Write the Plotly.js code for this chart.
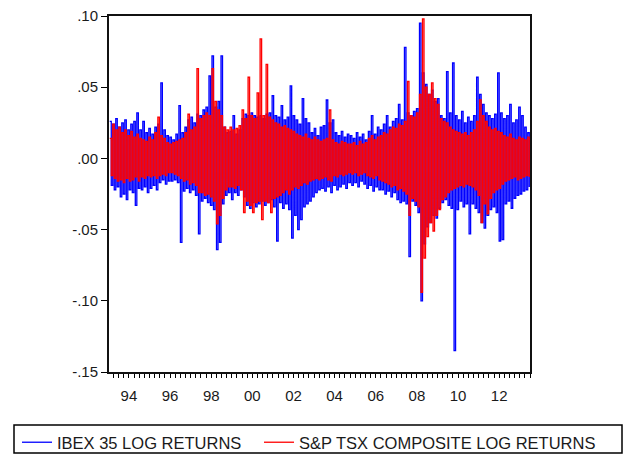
<!DOCTYPE html>
<html>
<head>
<meta charset="utf-8">
<script src="https://cdn.plot.ly/plotly-3.0.1.min.js"></script>
<style>html,body{margin:0;padding:0;background:#fff;}#chart{width:632px;height:456px;}</style>
</head>
<body>
<div id="chart"></div>
<script>
// Time span of the daily series (decimal years)
var startYear = 1993.53;
var endYear = 2014.0;

// IBEX 35 daily log returns (envelope, alternating highs/lows in time order)
var ibex = [
.026,-.019,.024,-.022,.028,-.020,.022,-.027,.025,-.025,.027,-.029,.020,-.022,.024,-.024,.026,-.033,.032,-.021,
.020,-.022,.026,-.020,.018,-.024,.021,-.021,.017,-.019,.022,-.022,.024,-.017,.053,-.015,.020,-.018,.016,-.016,
.015,-.016,.013,-.015,.017,-.017,.037,-.059,.018,-.023,.022,-.021,.027,-.024,.029,-.022,.025,-.026,.031,-.053,
.030,-.030,.034,-.028,.036,-.031,.058,-.033,.072,-.036,.036,-.064,.040,-.059,.072,-.032,.022,-.026,.018,-.024,
.019,-.029,.030,-.024,.017,-.026,.020,-.022,.028,-.027,.031,-.033,.030,-.035,.032,-.031,.030,-.034,.029,-.032,
.030,-.030,.028,-.033,.031,-.031,.032,-.029,.044,-.034,.030,-.058,.029,-.031,.037,-.035,.027,-.032,.029,-.036,
.051,-.056,.030,-.040,.027,-.050,.024,-.043,.042,-.034,.028,-.032,.025,-.030,.018,-.027,.021,-.024,.016,-.022,
.022,-.021,.023,-.023,.041,-.020,.025,-.024,.027,-.019,.018,-.022,.016,-.020,.019,-.018,.015,-.021,.017,-.017,
.016,-.019,.014,-.017,.018,-.020,.015,-.016,.017,-.018,.013,-.021,.019,-.019,.030,-.023,.017,-.020,.022,-.022,
.020,-.022,.024,-.025,.030,-.023,.022,-.027,.026,-.024,.028,-.029,.038,-.031,.027,-.030,.078,-.032,.032,-.069,
.030,-.030,.033,-.033,.035,-.038,.095,-.100,.060,-.060,.052,-.048,.045,-.045,.048,-.040,.040,-.042,.042,-.035,
.030,-.031,.028,-.029,.061,-.033,.032,-.035,.067,-.135,.030,-.036,.027,-.030,.033,-.034,.025,-.032,.029,-.053,
.026,-.032,.030,-.035,.057,-.038,.045,-.045,.038,-.049,.032,-.040,.030,-.036,.028,-.034,.031,-.038,.060,-.058,
.032,-.057,.028,-.032,.030,-.030,.038,-.035,.025,-.028,.027,-.026,.036,-.025,.030,-.023,.022,-.022,.018,-.020
];

// S&P TSX Composite daily log returns (same layout)
var tsx = [
.014,-.012,.024,-.014,.020,-.016,.022,-.015,.018,-.017,.020,-.014,.016,-.016,.019,-.015,.015,-.013,.017,-.016,
.014,-.013,.013,-.014,.012,-.012,.015,-.013,.013,-.012,.018,-.014,.029,-.012,.016,-.011,.014,-.012,.011,-.010,
.010,-.010,.011,-.011,.012,-.012,.013,-.014,.014,-.016,.018,-.015,.031,-.018,.020,-.017,.022,-.019,.063,-.024,
.028,-.024,.030,-.026,.032,-.025,.030,-.027,.063,-.030,.040,-.046,.034,-.040,.030,-.028,.022,-.022,.020,-.020,
.022,-.020,.020,-.021,.021,-.019,.023,-.022,.034,-.038,.028,-.030,.057,-.033,.030,-.038,.028,-.031,.046,-.030,
.084,-.043,.030,-.030,.066,-.031,.029,-.038,.027,-.028,.025,-.027,.024,-.026,.022,-.024,.023,-.022,.021,-.025,
.020,-.022,.019,-.020,.017,-.021,.016,-.019,.015,-.017,.017,-.018,.014,-.016,.013,-.015,.015,-.014,.013,-.015,
.012,-.014,.013,-.013,.014,-.015,.034,-.016,.013,-.012,.011,-.013,.010,-.011,.012,-.012,.011,-.011,.010,-.010,
.010,-.011,.011,-.010,.009,-.012,.012,-.011,.010,-.010,.011,-.012,.014,-.013,.016,-.014,.013,-.012,.015,-.015,
.016,-.016,.018,-.017,.017,-.018,.020,-.020,.022,-.019,.021,-.022,.024,-.021,.023,-.023,.026,-.025,.054,-.040,
.030,-.028,.029,-.030,.032,-.034,.045,-.094,.098,-.070,.050,-.055,.045,-.045,.053,-.051,.042,-.040,.038,-.036,
.028,-.029,.026,-.027,.025,-.024,.022,-.022,.020,-.021,.019,-.020,.018,-.019,.017,-.020,.018,-.018,.016,-.019,
.018,-.020,.020,-.022,.026,-.026,.041,-.045,.030,-.032,.026,-.039,.022,-.028,.020,-.024,.021,-.022,.019,-.021,
.018,-.018,.016,-.016,.015,-.015,.017,-.014,.014,-.013,.013,-.015,.015,-.014,.014,-.013,.013,-.012,.015,-.013
];

// Axis tick labels
var yTickVals = [-0.15, -0.10, -0.05, 0, 0.05, 0.10];
var yTickText = ['-.15', '-.10', '-.05', '.00', '.05', '.10'];
var xLabelYears = [1994, 1996, 1998, 2000, 2002, 2004, 2006, 2008, 2010, 2012];
var xLabelText = ['94', '96', '98', '00', '02', '04', '06', '08', '10', '12'];
var seriesNames = ['IBEX 35 LOG RETURNS', 'S&P TSX COMPOSITE LOG RETURNS'];

// time index for the observations
function timeIndex(n) {
  var step = (endYear - startYear) / n, t = [];
  for (var i = 0; i < n; i++) t.push(startYear + (i + 0.5) * step);
  return t;
}

// quarterly ticks, labels at year centres
var tickVals = [], tickText = [];
for (var q = Math.ceil(startYear * 4) / 4; q <= endYear; q += 0.25) {
  tickVals.push(q);
  var lab = '';
  for (var j = 0; j < xLabelYears.length; j++) {
    if (Math.abs(q - (xLabelYears[j] + 0.5)) < 1e-6) lab = xLabelText[j];
  }
  tickText.push(lab);
}

var font = 'Liberation Sans, Arial, sans-serif';

// pixel helpers for legend placement (plot area: x 109..530, y 16..372)
function px(x) { return (x - 109) / 421; }
function py(y) { return (372 - y) / 356; }

var traces = [
  {x: timeIndex(ibex.length), y: ibex, type: 'scatter', mode: 'lines', name: seriesNames[0],
   line: {color: '#0000ff', width: 1.3, shape: 'hv'}, hoverinfo: 'skip', legend: 'legend'},
  {x: timeIndex(tsx.length), y: tsx, type: 'scatter', mode: 'lines', name: seriesNames[1],
   line: {color: '#ff0000', width: 1.3, shape: 'hv'}, hoverinfo: 'skip', legend: 'legend2'}
];

var legendBase = {
  orientation: 'h', xanchor: 'left', yanchor: 'top',
  borderwidth: 0, bgcolor: 'rgba(0,0,0,0)',
  font: {family: font, size: 16.5, color: '#1a1a1a'},
  itemwidth: 30
};

var layout = {
  width: 632, height: 456,
  margin: {l: 109, r: 102, t: 16, b: 84, pad: 0, autoexpand: false},
  paper_bgcolor: '#ffffff', plot_bgcolor: '#ffffff',
  font: {family: font, size: 15, color: '#1a1a1a'},
  xaxis: {
    range: [startYear, endYear], tickmode: 'array', tickvals: tickVals, ticktext: tickText,
    ticks: 'outside', ticklen: 4, tickwidth: 1, tickcolor: '#000', ticklabelstandoff: 5,
    showline: true, linecolor: '#111', linewidth: 2, mirror: true,
    showgrid: false, zeroline: false, automargin: false,
    tickfont: {family: font, size: 15, color: '#1a1a1a'}
  },
  yaxis: {
    range: [-0.15, 0.10], tickmode: 'array', tickvals: yTickVals, ticktext: yTickText,
    ticks: 'outside', ticklen: 6, tickwidth: 1, tickcolor: '#000',
    showline: true, linecolor: '#111', linewidth: 2, mirror: true,
    showgrid: false, zeroline: false, automargin: false,
    tickfont: {family: font, size: 15, color: '#1a1a1a'}
  },
  showlegend: true,
  legend: Object.assign({}, legendBase, {x: px(17), y: py(425)}),
  legend2: Object.assign({}, legendBase, {x: px(259), y: py(425)}),
  shapes: [
    {type: 'rect', xref: 'paper', yref: 'paper',
     x0: px(14), x1: px(622), y0: py(425), y1: py(453),
     line: {color: '#000', width: 1.5}, fillcolor: 'rgba(0,0,0,0)', layer: 'below'}
  ]
};

Plotly.newPlot('chart', traces, layout, {staticPlot: true, displayModeBar: false});
</script>
</body>
</html>
